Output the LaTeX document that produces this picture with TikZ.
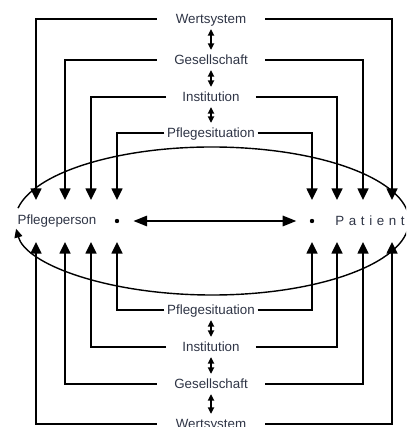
\documentclass[tikz,border=0pt]{standalone}
\usepackage{fontspec}
\setmainfont{Liberation Sans}
\usetikzlibrary{arrows.meta}
\definecolor{textcol}{HTML}{2E3445}

\begin{document}
\begin{tikzpicture}[
            x=0.25mm, y=0.25mm,
            every node/.style={font=\fontsize{9.5}{11}\selectfont, text=textcol},
            level/.style={inner ysep=0.3mm, text height=0.8em, text depth=0.2em},
            dot/.style={circle, fill=black, inner sep=0pt, minimum size=1.1mm},
            bigarr/.style={-{Triangle[length=2.9mm,width=2.7mm]}, line width=1.35pt},
            twoway/.style={{Triangle[length=1.6mm,width=1.5mm]}-{Triangle[length=1.6mm,width=1.5mm]},
                line width=1.3pt, shorten <=0.4mm, shorten >=0.4mm},
            midarr/.style={{Triangle[length=3.4mm,width=2.6mm]}-{Triangle[length=3.4mm,width=2.6mm]},
                line width=1.3pt},
            ringarr/.style={-{Triangle[length=2.2mm,width=2mm]}, line width=1pt}
        ]
        \useasboundingbox (0,0) rectangle (406,427);
        \clip (0,0) rectangle (406,427);

        % Draw levels above and below %
        \foreach \n/\txt/\yt/\yb/\xl/\xr/\sep in {W/Wertsystem/408/3/36/392/4.68,
                G/Gesellschaft/367/43/65/363/4.3,
                I/Institution/330/80/91/337/3.98,
                P/Pflegesituation/294/117/117/312/0.66} {
            \node[level, inner xsep=\sep mm] (t\n) at (211,\yt) {\txt};
            \node[level, inner xsep=\sep mm] (b\n) at (211,\yb) {\txt};
            \coordinate (tl\n) at (\xl,227);
            \coordinate (tr\n) at (\xr,227);
            \coordinate (bl\n) at (\xl,185);
            \coordinate (br\n) at (\xr,185);
            \draw[bigarr] (t\n.west) -| (tl\n);
            \draw[bigarr] (t\n.east) -| (tr\n);
            \draw[bigarr] (b\n.west) -| (bl\n);
            \draw[bigarr] (b\n.east) -| (br\n);
        }

        % Draw links between levels %
        \draw[twoway] (tW) -- (tG);
        \draw[twoway] (tG) -- (tI);
        \draw[twoway] (tI) -- (tP);
        \draw[twoway] (bP) -- (bI);
        \draw[twoway] (bI) -- (bG);
        \draw[twoway] (bG) -- (bW);

        % Draw persons %
        \node (pp) at (57,206) {Pflegeperson};
        \node[dot] (dl) at (117,206) {};
        \node[dot] (dr) at (312,206) {};
        \node (pat) at (370,206) {\spaceskip=1.15mm P a t i e n t};
        \draw[midarr, shorten <=3.5mm, shorten >=3.3mm] (dl) -- (dr);

        % Draw ring %
        \coordinate (ec) at (212,206);
        \draw[ringarr] (ec) ++(170:197 and 74)
            arc[start angle=170, end angle=-174, x radius=197, y radius=74];
\end{tikzpicture}
\end{document}
